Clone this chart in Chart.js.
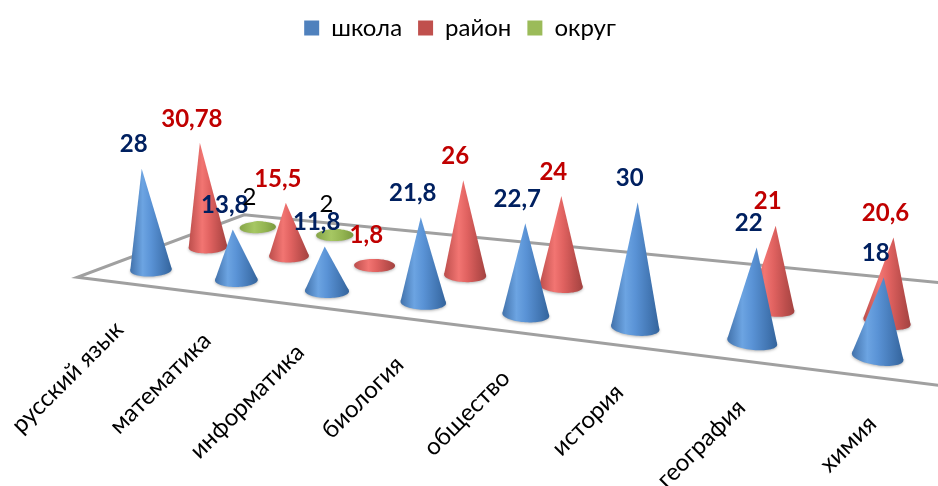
<!DOCTYPE html>
<html lang="ru">
<head>
<meta charset="utf-8">
<style>html,body{margin:0;padding:0;background:#fff}canvas{display:block}</style>
<script src="https://cdn.jsdelivr.net/npm/chart.js@4"></script>
</head>
<body>
<canvas id="c" width="938" height="486"></canvas>
<script>
const categories = ['русский язык','математика','информатика','биология','общество','история','география','химия'];
const school   = [28, 13.8, 11.8, 21.8, 22.7, 30, 22, 18];
const district = [30.78, 15.5, 1.8, 26, 24, null, 21, 20.6];
const county   = [2, 2, null, null, null, null, null, null];
const seriesNames = ['школа','район','округ'];

const swatch = ['#4F81BD','#C0504D','#9BBB59'];
const labelColor = ['#002060','#C00000','#000000'];
const coneStops = [
  [[0,'#4272AB'],[.3,'#6CA4E2'],[.5,'#5A93D6'],[.8,'#4377B4'],[1,'#34649C']],
  [[0,'#BC4E4C'],[.35,'#F27572'],[.55,'#E06260'],[.8,'#BE4F4D'],[1,'#A34341']],
  [[0,'#86A548'],[.4,'#A6C763'],[.7,'#94B552'],[1,'#7A9A3F']]
];

/* camera of the tilted 3-D scene: u along categories, d along series, v along value */
const cam = {a:77.5,b:71.2,c:110.1,e:-.44, p:2.15,q:-4.6,r:265,s:3.7, g:-.0283,h:.072,k:-.0008};
function project(u,d,v){
  const w = 1 + cam.g*u + cam.h*d + cam.k*v;
  return {x:(cam.a*u + cam.b*d + cam.c + cam.e*v)/w, y:(cam.p*u + cam.q*d + cam.r - cam.s*v)/w, w};
}
const FONT = 'Lato, "Open Sans", sans-serif';
const fmt = v => String(v).replace('.',',');

function worldOf(chart,i,v){
  const xs = chart.scales.x, ys = chart.scales.y;
  const u = (xs.getPixelForValue(i) - xs.left)/xs.width*categories.length;
  const z = (ys.bottom - ys.getPixelForValue(v))/ys.height*ys.max;
  return {u,z};
}
function drawCone(ctx,u,d,z,stops){
  const c = project(u,d,0), tip = project(u,d,z);
  const rx = 20.5/c.w, ry = rx*.32, tilt = (-3 + u*1.5)*Math.PI/180, base=[];
  for(let t=0;t<72;t++){
    const a=t/72*Math.PI*2, ex=rx*Math.cos(a), ey=ry*Math.sin(a);
    base.push({x:c.x+ex*Math.cos(tilt)-ey*Math.sin(tilt), y:c.y+ex*Math.sin(tilt)+ey*Math.cos(tilt)});
  }
  let minA=Infinity,maxA=-Infinity,iL=0,iR=0;
  base.forEach((p,i)=>{
    const a=Math.atan2(p.x-tip.x, p.y-tip.y);
    if(a<minA){minA=a;iR=i}
    if(a>maxA){maxA=a;iL=i}
  });
  const xs=base.map(p=>p.x), x0=Math.min(...xs), x1=Math.max(...xs);
  const grad=ctx.createLinearGradient(x0,0,x1,0);
  stops.forEach(s=>grad.addColorStop(s[0],s[1]));
  ctx.save();
  ctx.shadowColor='rgba(0,0,0,.3)';ctx.shadowBlur=3;ctx.shadowOffsetY=1;
  ctx.fillStyle=grad;
  ctx.beginPath();
  base.forEach((p,i)=>i?ctx.lineTo(p.x,p.y):ctx.moveTo(p.x,p.y));
  ctx.closePath();ctx.fill();
  ctx.shadowColor='transparent';
  ctx.beginPath();
  ctx.moveTo(tip.x,tip.y);ctx.lineTo(base[iL].x,base[iL].y);ctx.lineTo(c.x,c.y);ctx.lineTo(base[iR].x,base[iR].y);
  ctx.closePath();ctx.fill();
  ctx.restore();
}
const scene = {
  id:'scene',
  beforeDatasetDraw(){return false},
  beforeDatasetsDraw(chart){
    const ctx=chart.ctx, n=categories.length;
    ctx.save();
    ctx.strokeStyle='#A0A0A0';ctx.lineWidth=3;ctx.lineJoin='miter';
    ctx.beginPath();
    [[0,-.5],[n,-.5],[n,2.5],[0,2.5]].forEach((q,i)=>{
      const p=project(q[0],q[1],0); i?ctx.lineTo(p.x,p.y):ctx.moveTo(p.x,p.y);
    });
    ctx.closePath();ctx.stroke();
    for(let ds=chart.data.datasets.length-1;ds>=0;ds--){
      chart.data.datasets[ds].data.forEach((v,i)=>{
        if(v==null)return;
        const w=worldOf(chart,i,v);
        drawCone(ctx,w.u,ds,w.z,coneStops[ds]);
      });
    }
    ctx.fillStyle='#000';
    ctx.font='24px '+FONT;ctx.textAlign='right';ctx.textBaseline='middle';
    categories.forEach((name,i)=>{
      const u=worldOf(chart,i,0).u, p=project(u,-.5,0);
      ctx.save();ctx.translate(p.x,p.y+43);ctx.rotate(-Math.PI/4);ctx.fillText(name,0,0);ctx.restore();
    });
    ctx.textAlign='center';
    chart.data.datasets.forEach((set,ds)=>{
      ctx.font=(ds===2?'':'bold ')+'24px '+FONT;
      ctx.fillStyle=labelColor[ds];
      set.data.forEach((v,i)=>{
        if(v==null)return;
        const w=worldOf(chart,i,v), p=project(w.u,ds,w.z);
        ctx.fillText(fmt(v),p.x-8,p.y-24);
      });
    });
    ctx.restore();
  }
};
new Chart(document.getElementById('c'),{
  type:'bar',
  data:{labels:categories,datasets:[
    {label:seriesNames[0],data:school,backgroundColor:swatch[0],borderWidth:0},
    {label:seriesNames[1],data:district,backgroundColor:swatch[1],borderWidth:0},
    {label:seriesNames[2],data:county,backgroundColor:swatch[2],borderWidth:0}
  ]},
  options:{
    responsive:false,animation:false,
    layout:{padding:{right:18}},
    scales:{x:{display:false},y:{display:false,min:0,max:35}},
    plugins:{
      tooltip:{enabled:false},
      legend:{position:'top',labels:{boxWidth:15,boxHeight:15,padding:16,color:'#000',font:{family:FONT,size:24}}}
    }
  },
  plugins:[scene]
});
</script>
</body>
</html>
